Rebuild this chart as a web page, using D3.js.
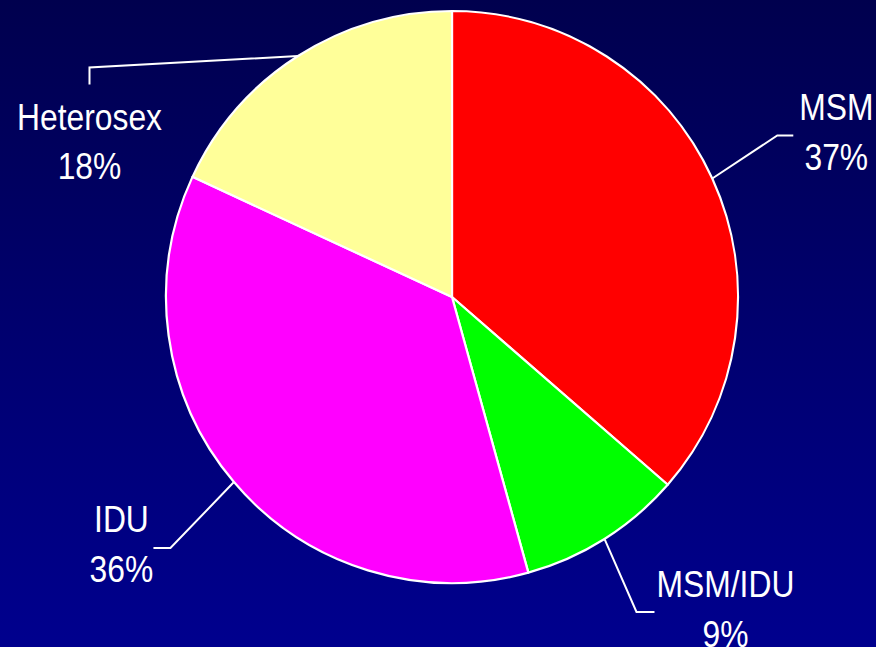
<!DOCTYPE html>
<html>
<head>
<meta charset="utf-8">
<script src="https://cdn.jsdelivr.net/npm/d3@7"></script>
<style>
  html, body { margin: 0; padding: 0; }
  body { width: 876px; height: 647px; overflow: hidden; }
  svg text { font-family: "Liberation Sans", Arial, sans-serif; fill: #ffffff; }
</style>
</head>
<body>
<svg id="chart" width="876" height="647"></svg>
<script>
// ---- data ----
const categories = ["MSM", "MSM/IDU", "IDU", "Heterosex"];
const values = [36.4, 9.3, 36.2, 18.1];
const percentLabels = ["37%", "9%", "36%", "18%"];
const colors = ["#ff0000", "#00ff00", "#ff00ff", "#ffff99"];

// ---- layout (label geometry relative to slice mid-angle point on the rim) ----
const labelLayout = [
  { elbow: [65, -43], end: [81, -43], text: [124, -58] },      // MSM
  { elbow: [32, 73], end: [50, 73], text: [121, 58] },         // MSM/IDU
  { elbow: [-63.5, 66], end: [-80.5, 66], text: [-112.5, 50] },// IDU
  { elbow: [-208.5, 11.5], end: [-208.5, 28.5], text: [-208.5, 73.5] } // Heterosex
];

const W = 876, H = 647;
const cx = 452, cy = 297, R = 286;
const textScaleX = 0.86;

const svg = d3.select("#chart");
const defs = svg.append("defs");
const grad = defs.append("linearGradient").attr("id", "bg")
  .attr("x1", 0).attr("y1", 0).attr("x2", 0).attr("y2", 1);
grad.append("stop").attr("offset", "0%").attr("stop-color", "#00004e");
grad.append("stop").attr("offset", "100%").attr("stop-color", "#00008e");
svg.append("rect").attr("width", W).attr("height", H).attr("fill", "url(#bg)");

const pie = d3.pie().sort(null).value(d => d.value);
const data = categories.map((c, i) => ({ cat: c, value: values[i], label: percentLabels[i], color: colors[i] }));
const arcs = pie(data);
const arc = d3.arc().innerRadius(0).outerRadius(R);

const g = svg.append("g").attr("transform", `translate(${cx},${cy})`);
g.selectAll("path.slice").data(arcs).enter().append("path")
  .attr("class", "slice")
  .attr("d", arc)
  .attr("fill", d => d.data.color)
  .attr("stroke", "#ffffff")
  .attr("stroke-width", 2.2)
  .attr("stroke-linejoin", "round");

arcs.forEach((d, i) => {
  const a = (d.startAngle + d.endAngle) / 2;
  const p0 = [Math.sin(a) * R, -Math.cos(a) * R];
  const L = labelLayout[i];
  const p1 = [p0[0] + L.elbow[0], p0[1] + L.elbow[1]];
  const p2 = [p0[0] + L.end[0], p0[1] + L.end[1]];
  g.append("path")
    .attr("d", d3.line()([p0, p1, p2]))
    .attr("fill", "none")
    .attr("stroke", "#ffffff")
    .attr("stroke-width", 2);
  const tx = p0[0] + L.text[0], ty = p0[1] + L.text[1];
  const t = g.append("text")
    .attr("transform", `translate(${tx},${ty}) scale(${textScaleX},1)`)
    .attr("text-anchor", "middle")
    .style("font-size", "37px");
  t.append("tspan").attr("x", 0).attr("y", 0).text(d.data.cat);
  t.append("tspan").attr("x", 0).attr("y", 50).text(d.data.label);
});
</script>
</body>
</html>
